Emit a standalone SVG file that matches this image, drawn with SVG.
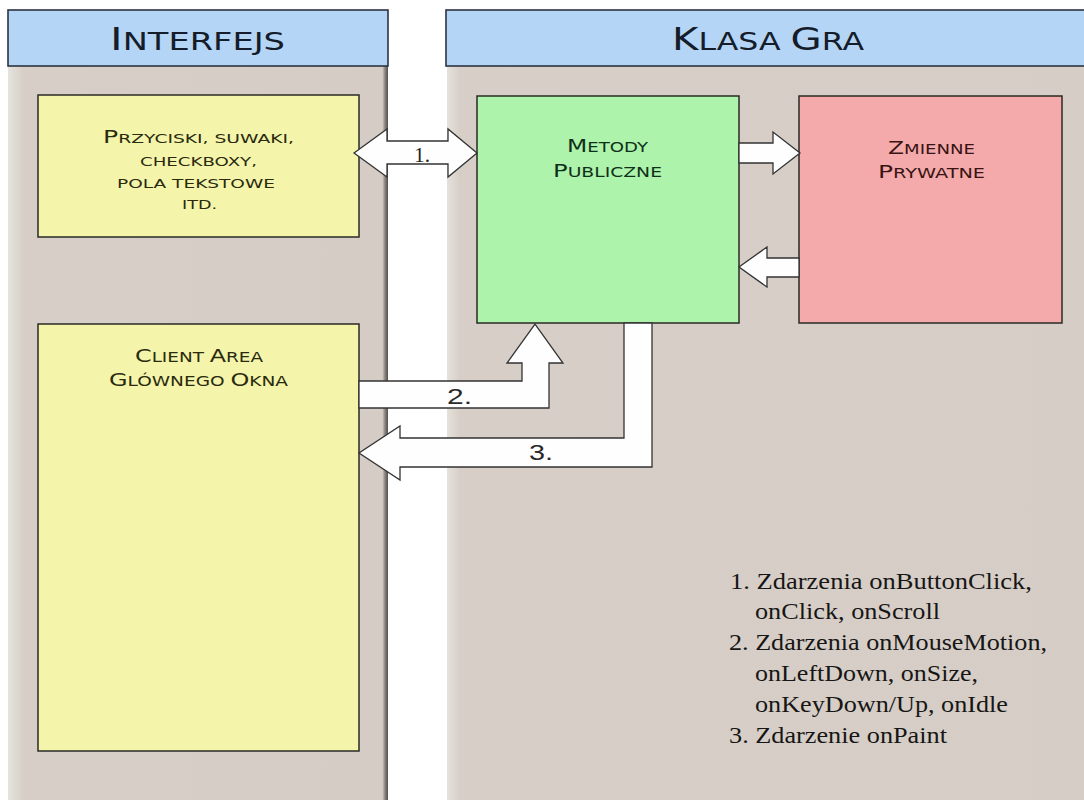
<svg xmlns="http://www.w3.org/2000/svg" width="1084" height="800" viewBox="0 0 1084 800">
  <defs>
    <linearGradient id="panelL" x1="0" y1="0" x2="1" y2="0">
      <stop offset="0" stop-color="#e6e4de"/>
      <stop offset="0.04" stop-color="#d7cfc7"/>
      <stop offset="0.985" stop-color="#d5cdc5"/>
      <stop offset="0.992" stop-color="#8a847e"/>
      <stop offset="1" stop-color="#55504c"/>
    </linearGradient>
    <linearGradient id="panelR" x1="0" y1="0" x2="1" y2="0">
      <stop offset="0" stop-color="#e4e2dc"/>
      <stop offset="0.02" stop-color="#d7cfc7"/>
      <stop offset="1" stop-color="#d6cec6"/>
    </linearGradient>
    <style>
      .hdr { fill: #b4d5f6; stroke: #2b3442; stroke-width: 1.6; }
      .hdrt { font-family: "DejaVu Sans", sans-serif; fill: #151c2a; }
      .box { stroke: #2a2a26; stroke-width: 1.5; }
      .yel { fill: #f4f5ab; }
      .grn { fill: #aef3ac; }
      .red { fill: #f4aaaa; }
      .bt { font-family: "DejaVu Sans", sans-serif; }
      .arrow { fill: #fefefe; stroke: #333333; stroke-width: 1.3; stroke-linejoin: miter; }
      .alab { font-family: "Liberation Sans", Arial, sans-serif; font-size: 22px; fill: #2a2a2a; }
      .leg { font-family: "Liberation Serif", "Times New Roman", serif; font-size: 23.5px; fill: #161616; }
    </style>
  </defs>

  <rect x="0" y="0" width="1084" height="800" fill="#ffffff"/>

  <!-- panels -->
  <g id="panel-interfejs">
    <rect x="8" y="66" width="380" height="740" fill="url(#panelL)"/>
    <rect class="hdr" x="8" y="10" width="380" height="56"/>
    <text class="hdrt" x="110" y="50" textLength="175" lengthAdjust="spacingAndGlyphs"><tspan font-size="31.5">I</tspan><tspan font-size="24.7">NTERFEJS</tspan></text>
  </g>
  <g id="panel-klasa-gra">
    <rect x="447" y="66" width="640" height="740" fill="url(#panelR)"/>
    <rect class="hdr" x="446" y="10" width="645" height="56"/>
    <text class="hdrt" x="672" y="50" textLength="192" lengthAdjust="spacingAndGlyphs"><tspan font-size="31.5">K</tspan><tspan font-size="24.7">LASA </tspan><tspan font-size="31.5">G</tspan><tspan font-size="24.7">RA</tspan></text>
  </g>

  <!-- nodes -->
  <g id="node-kontrolki">
    <rect class="box yel" x="38" y="95" width="321" height="142"/>
    <g class="bt" fill="#2a2a0e">
      <text x="103" y="143" textLength="191" lengthAdjust="spacingAndGlyphs"><tspan font-size="17.5">P</tspan><tspan font-size="13">RZYCISKI, SUWAKI,</tspan></text>
      <text x="140" y="166" font-size="13" textLength="117" lengthAdjust="spacingAndGlyphs">CHECKBOXY,</text>
      <text x="117" y="188" font-size="13" textLength="158" lengthAdjust="spacingAndGlyphs">POLA TEKSTOWE</text>
      <text x="182" y="209" font-size="13" textLength="35" lengthAdjust="spacingAndGlyphs">ITD.</text>
    </g>
  </g>

  <g id="node-client-area">
    <rect class="box yel" x="38" y="324" width="321" height="427"/>
    <g class="bt" fill="#2a2a0e">
      <text x="135" y="362" textLength="128" lengthAdjust="spacingAndGlyphs"><tspan font-size="17.5">C</tspan><tspan font-size="13.5">LIENT </tspan><tspan font-size="17.5">A</tspan><tspan font-size="13.5">REA</tspan></text>
      <text x="109" y="386" textLength="179" lengthAdjust="spacingAndGlyphs"><tspan font-size="17.5">G</tspan><tspan font-size="13.5">LÓWNEGO </tspan><tspan font-size="17.5">O</tspan><tspan font-size="13.5">KNA</tspan></text>
    </g>
  </g>

  <g id="node-metody-publiczne">
    <rect class="box grn" x="477" y="96" width="262" height="227"/>
    <g class="bt" fill="#0e3018">
      <text x="567" y="152" textLength="81" lengthAdjust="spacingAndGlyphs"><tspan font-size="17.5">M</tspan><tspan font-size="13.5">ETODY</tspan></text>
      <text x="553" y="177" textLength="109" lengthAdjust="spacingAndGlyphs"><tspan font-size="17.5">P</tspan><tspan font-size="13.5">UBLICZNE</tspan></text>
    </g>
  </g>

  <g id="node-zmienne-prywatne">
    <rect class="box red" x="799" y="96" width="263" height="227"/>
    <g class="bt" fill="#381414">
      <text x="888" y="154" textLength="87" lengthAdjust="spacingAndGlyphs"><tspan font-size="17.5">Z</tspan><tspan font-size="13.5">MIENNE</tspan></text>
      <text x="878" y="178" textLength="107" lengthAdjust="spacingAndGlyphs"><tspan font-size="17.5">P</tspan><tspan font-size="13.5">RYWATNE</tspan></text>
    </g>
  </g>

  <!-- connectors -->
  <g id="connectors">
    <!-- 1. double arrow -->
    <path class="arrow" d="M354,153 L387,129 L387,141 L448,141 L448,129 L477,153 L448,177 L448,164 L387,164 L387,177 Z"/>
    <text x="414" y="162" font-family="Liberation Serif, serif" font-size="21" fill="#222" textLength="16" lengthAdjust="spacingAndGlyphs">1.</text>

    <!-- green -> red -->
    <path class="arrow" d="M739,143 L773,143 L773,132 L800,153 L773,174 L773,163 L739,163 Z"/>
    <!-- red -> green -->
    <path class="arrow" d="M799,258 L767,258 L767,247 L739,267 L767,287 L767,277 L799,277 Z"/>

    <!-- 2. client area -> metody -->
    <path class="arrow" d="M359,381 L522,381 L522,363 L507,363 L535,324 L563,363 L549,363 L549,408 L359,408 Z"/>
    <text class="alab" x="447" y="404" textLength="25" lengthAdjust="spacingAndGlyphs">2.</text>

    <!-- 3. metody -> client area -->
    <path class="arrow" d="M624,323 L624,438 L400,438 L400,426 L359,453 L400,480 L400,467 L652,467 L652,323 Z"/>
    <text class="alab" x="529" y="460" textLength="24" lengthAdjust="spacingAndGlyphs">3.</text>
  </g>

  <!-- legend -->
  <g id="legend" class="leg">
    <text x="730" y="589" textLength="302" lengthAdjust="spacingAndGlyphs">1. Zdarzenia onButtonClick,</text>
    <text x="755" y="619" textLength="185" lengthAdjust="spacingAndGlyphs">onClick, onScroll</text>
    <text x="729" y="650" textLength="318" lengthAdjust="spacingAndGlyphs">2. Zdarzenia onMouseMotion,</text>
    <text x="755" y="681" textLength="223" lengthAdjust="spacingAndGlyphs">onLeftDown, onSize,</text>
    <text x="755" y="712" textLength="253" lengthAdjust="spacingAndGlyphs">onKeyDown/Up, onIdle</text>
    <text x="729" y="743" textLength="218" lengthAdjust="spacingAndGlyphs">3. Zdarzenie onPaint</text>
  </g>
</svg>
